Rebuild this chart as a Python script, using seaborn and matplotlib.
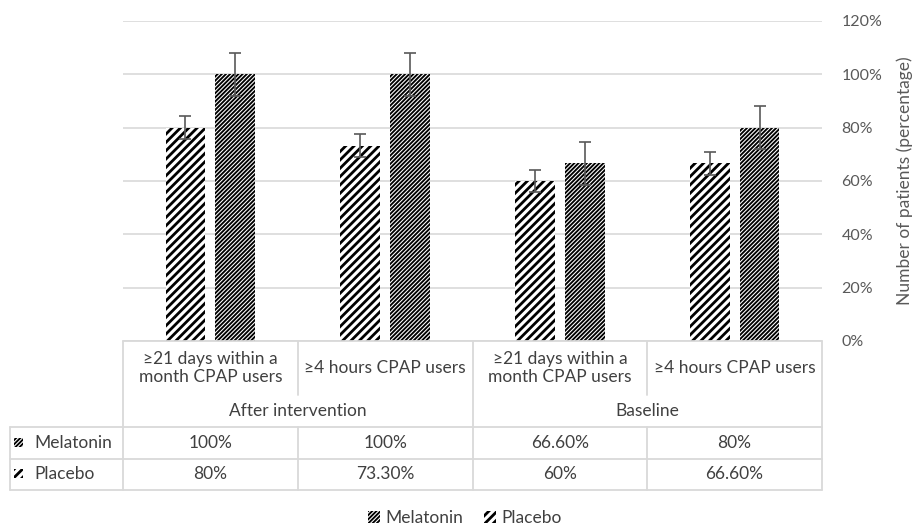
import matplotlib
matplotlib.use('Agg')
import matplotlib.pyplot as plt
import matplotlib.transforms as mtransforms
from matplotlib.patches import Rectangle
from matplotlib.ticker import FuncFormatter
import seaborn as sns
import pandas as pd

# Data
groups = ['After intervention', 'Baseline']
categories = ['≥21 days within a\nmonth CPAP users', '≥4 hours CPAP users',
              '≥21 days within a\nmonth CPAP users', '≥4 hours CPAP users']
cat_keys = ['after_21d', 'after_4h', 'base_21d', 'base_4h']
melatonin = [100, 100, 66.6, 80]
placebo = [80, 73.3, 60, 66.6]
melatonin_err = [8.1, 8.1, 8.1, 8.1]
placebo_err = [4.3, 4.2, 4.2, 4.3]
melatonin_txt = ['100%', '100%', '66.60%', '80%']
placebo_txt = ['80%', '73.30%', '60%', '66.60%']

sns.set_theme(style='white')
plt.rcParams['font.family'] = ['Lato', 'DejaVu Sans']

TXT = '#404040'
GRID = '#d9d9d9'
FS = 12.5

df = pd.DataFrame({
    'cat': cat_keys * 2,
    'treatment': ['Placebo'] * 4 + ['Melatonin'] * 4,
    'value': placebo + melatonin,
})

fig = plt.figure(figsize=(9.17, 5.27), dpi=100)
W, H = 917, 527
# plot area in pixels: x 123..822, y 21..341
ax = fig.add_axes([123 / W, 1 - 341 / H, 699 / W, 320 / H])

sns.barplot(data=df, x='cat', y='value', hue='treatment', order=cat_keys,
            hue_order=['Placebo', 'Melatonin'], errorbar=None,
            width=0.57, gap=0.2, ax=ax)
ax.get_legend().remove()

# hatch pattern + hatch line width for each series
styles = {'Placebo': ('////', 2.0), 'Melatonin': ('////////', 1.35)}
errs = {'Placebo': placebo_err, 'Melatonin': melatonin_err}
for cont, name in zip(ax.containers, ['Placebo', 'Melatonin']):
    hatch, hlw = styles[name]
    xs, ys = [], []
    for bar in cont:
        bar.set_facecolor('white')
        bar.set_edgecolor('black')
        bar.set_linewidth(0)
        bar.set_hatch(hatch)
        bar.set_hatch_linewidth(hlw)
        xs.append(bar.get_x() + bar.get_width() / 2)
        ys.append(bar.get_height())
    ax.errorbar(xs, ys, yerr=errs[name], fmt='none', ecolor='#595959',
                elinewidth=1.2, capsize=4, capthick=1.2, zorder=5)

ax.set_xlim(-0.5, 3.5)
ax.set_ylim(0, 120)
ax.set_yticks(range(0, 121, 20))
ax.yaxis.set_major_formatter(FuncFormatter(lambda v, p: f'{int(v)}%'))
ax.yaxis.tick_right()
ax.tick_params(axis='y', length=0, pad=14, labelsize=11.5, labelcolor='#595959')
ax.set_xticks([])
ax.set_xlabel('')
ax.set_ylabel('Number of patients (percentage)', fontsize=FS, color='#595959')
ax.yaxis.set_label_position('right')
ax.yaxis.set_label_coords(1.107, 0.5)
ax.grid(axis='y', color=GRID, linewidth=1.2)
ax.set_axisbelow(True)
for s in ax.spines.values():
    s.set_visible(False)

# data table below the plot
tr = mtransforms.blended_transform_factory(ax.transData, ax.transAxes)


def fy(ypix):
    return (341 - ypix) / 320


def line(x0, x1, y0, y1):
    ax.plot([x0, x1], [fy(y0), fy(y1)], color=GRID, lw=1.3, transform=tr,
            clip_on=False, zorder=1)


left_edge = (10 - 123) / 175 - 0.5
bounds = [-0.5, 0.5, 1.5, 2.5, 3.5]
line(-0.5, 3.5, 341, 341)
for yy in (427, 459, 490):
    line(left_edge, 3.5, yy, yy)
line(left_edge, left_edge, 427, 490)
for i, b in enumerate(bounds):
    if i in (0, 2, 4):
        line(b, b, 341, 490)
    else:
        line(b, b, 341, 395)
        line(b, b, 427, 490)

for i, lab in enumerate(categories):
    ax.text(i, fy(368), lab, ha='center', va='center', fontsize=FS, color=TXT,
            transform=tr, linespacing=1.1)
    ax.text(i, fy(443), melatonin_txt[i], ha='center', va='center',
            fontsize=FS, color=TXT, transform=tr)
    ax.text(i, fy(474), placebo_txt[i], ha='center', va='center',
            fontsize=FS, color=TXT, transform=tr)
for g, lab in enumerate(groups):
    ax.text(2 * g + 0.5, fy(411), lab, ha='center', va='center', fontsize=FS,
            color=TXT, transform=tr)

# row labels with keys
kx = (14 - 123) / 175 - 0.5
kw = 9 / 175
for name, ypix in (('Melatonin', 443), ('Placebo', 474)):
    hatch, hlw = styles[name]
    key = Rectangle((kx, fy(ypix + 4)), kw, 9 / 320, transform=tr,
                    facecolor='white', edgecolor='black', linewidth=0,
                    hatch=hatch, clip_on=False)
    key.set_hatch_linewidth(hlw)
    ax.add_patch(key)
    ax.text((34 - 123) / 175 - 0.5, fy(ypix), name, ha='left', va='center',
            fontsize=FS, color=TXT, transform=tr)

# bottom legend
handles = [ax.containers[1][0], ax.containers[0][0]]
leg = fig.legend(handles, ['Melatonin', 'Placebo'], loc='center',
                 bbox_to_anchor=(465 / W, 1 - 518 / H), ncol=2, frameon=False,
                 fontsize=FS, handlelength=0.7, handleheight=0.7,
                 handletextpad=0.3, columnspacing=1.2, labelcolor=TXT)
for h, name in zip(leg.legend_handles, ['Melatonin', 'Placebo']):
    h.set_hatch_linewidth(styles[name][1])

fig.savefig('out.png', dpi=100)
